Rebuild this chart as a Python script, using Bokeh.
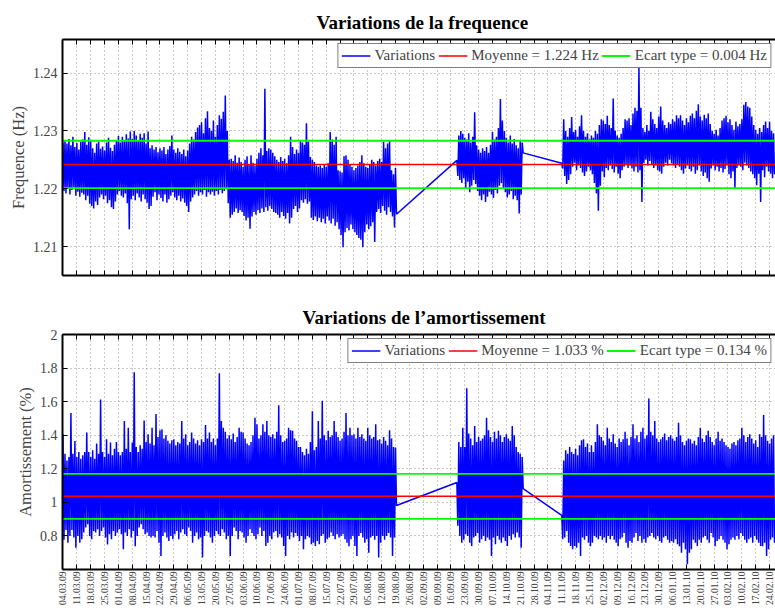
import math
from datetime import datetime

from bokeh.plotting import figure
from bokeh.layouts import column
from bokeh.models import (Range1d, FixedTicker, DatetimeTickFormatter, DatetimeAxis,
                          Legend, LegendItem)
from bokeh.embed import file_html
from bokeh.resources import INLINE

# ---------------------------------------------------------------- data
first_tick_date = "04.03.09"
n_weekly_ticks = 52
x_view_days = (-0.25, 360.0)          # visible window, in days after first tick
segment_starts = ["04.03.09", "19.09.09", "11.11.09"]

# daily high / low of the frequency record (Hz)
freq_hi_1 = [
    1.2280, 1.2284, 1.2278, 1.2286, 1.2275,  1.2290, 1.2272, 1.2279, 1.2268, 1.2281,
    1.2285, 1.2298, 1.2276, 1.2289, 1.2283,  1.2270, 1.2262, 1.2278, 1.2281, 1.2269,
    1.2273, 1.2266, 1.2280, 1.2288, 1.2271,  1.2265, 1.2276, 1.2284, 1.2291, 1.2280,
    1.2290, 1.2283, 1.2294, 1.2287, 1.2299,  1.2286, 1.2300, 1.2292, 1.2284, 1.2295,
    1.2288, 1.2296, 1.2278, 1.2299, 1.2270,  1.2275, 1.2268, 1.2272, 1.2263, 1.2270,
    1.2266, 1.2272, 1.2260, 1.2268, 1.2274,  1.2292, 1.2268, 1.2262, 1.2270, 1.2264,
    1.2260, 1.2268, 1.2256, 1.2266, 1.2278,  1.2290, 1.2285, 1.2298, 1.2306, 1.2310,
    1.2315, 1.2296, 1.2322, 1.2334, 1.2305,  1.2300, 1.2318, 1.2290, 1.2310, 1.2327,
    1.2321, 1.2333, 1.2361, 1.2300, 1.2250,  1.2252, 1.2248, 1.2258, 1.2245, 1.2254,
    1.2246, 1.2238, 1.2250, 1.2256, 1.2242,  1.2258, 1.2245, 1.2240, 1.2252, 1.2262,
    1.2270, 1.2258, 1.2373, 1.2265, 1.2270,  1.2268, 1.2262, 1.2256, 1.2250, 1.2246,
    1.2255, 1.2248, 1.2252, 1.2244, 1.2258,  1.2290, 1.2272, 1.2260, 1.2268, 1.2262,
    1.2283, 1.2280, 1.2276, 1.2313, 1.2281,  1.2255, 1.2250, 1.2246, 1.2240, 1.2238,
    1.2240, 1.2236, 1.2242, 1.2238, 1.2244,  1.2298, 1.2285, 1.2276, 1.2290, 1.2232,
    1.2230, 1.2228, 1.2256, 1.2258, 1.2250,  1.2242, 1.2238, 1.2232, 1.2236, 1.2240,
    1.2246, 1.2258, 1.2244, 1.2238, 1.2236,  1.2242, 1.2250, 1.2246, 1.2240, 1.2248,
    1.2252, 1.2246, 1.2281, 1.2270, 1.2278,  1.2283, 1.2232, 1.2225, 1.2236,
]
freq_lo_1 = [
    1.2196, 1.2192, 1.2200, 1.2190, 1.2198,  1.2202, 1.2188, 1.2195, 1.2186, 1.2193,
    1.2190, 1.2180, 1.2188, 1.2174, 1.2170,  1.2166, 1.2178, 1.2172, 1.2185, 1.2190,
    1.2182, 1.2188, 1.2175, 1.2180, 1.2168,  1.2165, 1.2178, 1.2190, 1.2196, 1.2188,
    1.2185, 1.2192, 1.2175, 1.2130, 1.2182,  1.2188, 1.2180, 1.2192, 1.2185, 1.2178,
    1.2190, 1.2182, 1.2176, 1.2165, 1.2170,  1.2186, 1.2194, 1.2180, 1.2190, 1.2184,
    1.2178, 1.2190, 1.2176, 1.2182, 1.2188,  1.2194, 1.2185, 1.2180, 1.2188, 1.2178,
    1.2183, 1.2176, 1.2170, 1.2160, 1.2178,  1.2185, 1.2190, 1.2196, 1.2188, 1.2194,
    1.2190, 1.2198, 1.2186, 1.2194, 1.2190,  1.2195, 1.2188, 1.2196, 1.2190, 1.2198,
    1.2192, 1.2196, 1.2200, 1.2175, 1.2150,  1.2155, 1.2160, 1.2166, 1.2158, 1.2163,
    1.2160, 1.2153, 1.2145, 1.2150, 1.2131,  1.2152, 1.2160, 1.2155, 1.2163, 1.2158,
    1.2166, 1.2160, 1.2168, 1.2162, 1.2170,  1.2165, 1.2160, 1.2158, 1.2155, 1.2150,
    1.2160, 1.2153, 1.2148, 1.2158, 1.2140,  1.2150, 1.2165, 1.2170, 1.2160, 1.2166,
    1.2180, 1.2176, 1.2182, 1.2174, 1.2178,  1.2150, 1.2146, 1.2152, 1.2144, 1.2150,
    1.2142, 1.2148, 1.2140, 1.2152, 1.2145,  1.2140, 1.2148, 1.2136, 1.2142, 1.2130,
    1.2120, 1.2099, 1.2125, 1.2132, 1.2128,  1.2138, 1.2130, 1.2125, 1.2120, 1.2115,
    1.2112, 1.2099, 1.2125, 1.2138, 1.2130,  1.2135, 1.2142, 1.2108, 1.2160, 1.2165,
    1.2158, 1.2170, 1.2162, 1.2155, 1.2168,  1.2160, 1.2152, 1.2133, 1.2156,
]
freq_hi_2 = [
    1.2249, 1.2292, 1.2300, 1.2295, 1.2288,  1.2285, 1.2296, 1.2280, 1.2290, 1.2332,
    1.2275, 1.2268, 1.2262, 1.2270, 1.2265,  1.2272, 1.2262, 1.2276, 1.2298, 1.2285,
    1.2290, 1.2305, 1.2355, 1.2318, 1.2300,  1.2288, 1.2280, 1.2292, 1.2278, 1.2286,
    1.2275, 1.2270, 1.2282, 1.2280,
]
freq_lo_2 = [
    1.2222, 1.2215, 1.2210, 1.2218, 1.2200,  1.2212, 1.2194, 1.2205, 1.2215, 1.2208,
    1.2196, 1.2188, 1.2180, 1.2190, 1.2177,  1.2186, 1.2195, 1.2190, 1.2184, 1.2198,
    1.2192, 1.2205, 1.2210, 1.2200, 1.2194,  1.2185, 1.2190, 1.2196, 1.2182, 1.2188,
    1.2180, 1.2157, 1.2190, 1.2262,
]
freq_hi_3 = [
    1.2244, 1.2320, 1.2300, 1.2290, 1.2305,  1.2324, 1.2298, 1.2302, 1.2290, 1.2308,
    1.2327, 1.2300, 1.2290, 1.2296, 1.2285,  1.2292, 1.2288, 1.2300, 1.2295, 1.2310,
    1.2320, 1.2318, 1.2312, 1.2326, 1.2310,  1.2305, 1.2356, 1.2300, 1.2292, 1.2288,
    1.2295, 1.2305, 1.2320, 1.2318, 1.2322,  1.2310, 1.2330, 1.2340, 1.2335, 1.2411,
    1.2340, 1.2305, 1.2298, 1.2310, 1.2300,  1.2333, 1.2320, 1.2312, 1.2305, 1.2325,
    1.2342, 1.2318, 1.2310, 1.2305, 1.2315,  1.2312, 1.2320, 1.2316, 1.2327, 1.2322,
    1.2327, 1.2318, 1.2310, 1.2322, 1.2315,  1.2326, 1.2330, 1.2322, 1.2335, 1.2346,
    1.2325, 1.2318, 1.2328, 1.2322, 1.2330,  1.2312, 1.2300, 1.2295, 1.2302, 1.2292,
    1.2305, 1.2318, 1.2322, 1.2326, 1.2315,  1.2320, 1.2310, 1.2302, 1.2316, 1.2308,
    1.2312, 1.2320, 1.2345, 1.2350, 1.2342,  1.2340, 1.2325, 1.2310, 1.2302, 1.2295,
    1.2305, 1.2298, 1.2310, 1.2316, 1.2305,  1.2316, 1.2300, 1.2296,
]
freq_lo_3 = [
    1.2235, 1.2222, 1.2208, 1.2215, 1.2225,  1.2238, 1.2245, 1.2232, 1.2240, 1.2236,
    1.2228, 1.2222, 1.2230, 1.2238, 1.2232,  1.2225, 1.2210, 1.2192, 1.2162, 1.2205,
    1.2230, 1.2220, 1.2236, 1.2232, 1.2240,  1.2234, 1.2228, 1.2238, 1.2226, 1.2218,
    1.2232, 1.2238, 1.2242, 1.2236, 1.2240,  1.2235, 1.2230, 1.2238, 1.2228, 1.2232,
    1.2177, 1.2245, 1.2250, 1.2240, 1.2248,  1.2242, 1.2236, 1.2240, 1.2232, 1.2230,
    1.2226, 1.2238, 1.2245, 1.2240, 1.2250,  1.2244, 1.2240, 1.2236, 1.2242, 1.2238,
    1.2232, 1.2226, 1.2235, 1.2240, 1.2234,  1.2230, 1.2238, 1.2226, 1.2232, 1.2240,
    1.2230, 1.2222, 1.2228, 1.2218, 1.2212,  1.2235, 1.2240, 1.2232, 1.2238, 1.2230,
    1.2236, 1.2228, 1.2234, 1.2240, 1.2225,  1.2218, 1.2230, 1.2200, 1.2236, 1.2240,
    1.2238, 1.2232, 1.2245, 1.2240, 1.2236,  1.2230, 1.2225, 1.2218, 1.2206, 1.2226,
    1.2177, 1.2232, 1.2220, 1.2238, 1.2230,  1.2226, 1.2218, 1.2225,
]

# daily high / low of the damping record (%)
damp_hi_1 = [
    1.406, 1.290, 1.250, 1.270, 1.533,  1.290, 1.365, 1.270, 1.300, 1.260,
    1.280, 1.300, 1.416, 1.300, 1.270,  1.310, 1.260, 1.350, 1.290, 1.612,
    1.300, 1.270, 1.376, 1.290, 1.356,  1.280, 1.320, 1.360, 1.300, 1.280,
    1.300, 1.484, 1.320, 1.445, 1.300,  1.356, 1.775, 1.330, 1.300, 1.340,
    1.320, 1.488, 1.360, 1.406, 1.350,  1.445, 1.340, 1.527, 1.390, 1.430,
    1.435, 1.380, 1.400, 1.367, 1.350,  1.370, 1.376, 1.340, 1.360, 1.350,
    1.484, 1.380, 1.406, 1.340, 1.360,  1.416, 1.380, 1.350, 1.370, 1.340,
    1.376, 1.360, 1.461, 1.380, 1.416,  1.360, 1.380, 1.340, 1.380, 1.769,
    1.484, 1.445, 1.420, 1.380, 1.400,  1.376, 1.410, 1.360, 1.390, 1.445,
    1.420, 1.416, 1.380, 1.350, 1.340,  1.360, 1.400, 1.504, 1.465, 1.380,
    1.400, 1.465, 1.420, 1.484, 1.400,  1.390, 1.406, 1.380, 1.420, 1.578,
    1.400, 1.360, 1.367, 1.380, 1.445,  1.430, 1.426, 1.380, 1.367, 1.330,
    1.330, 1.300, 1.280, 1.320, 1.290,  1.360, 1.543, 1.310, 1.330, 1.484,
    1.380, 1.606, 1.400, 1.370, 1.426,  1.390, 1.400, 1.484, 1.420, 1.390,
    1.367, 1.380, 1.420, 1.533, 1.400,  1.445, 1.400, 1.406, 1.380, 1.445,
    1.390, 1.406, 1.380, 1.367, 1.445,  1.400, 1.380, 1.390, 1.465, 1.370,
    1.376, 1.350, 1.390, 1.367, 1.340,  1.430, 1.380, 1.330, 1.327,
]
damp_lo_1 = [
    0.778, 0.835, 0.760, 0.800, 0.835,  0.790, 0.729, 0.800, 0.760, 0.780,
    0.820, 0.850, 0.870, 0.800, 0.780,  0.830, 0.820, 0.840, 0.800, 0.830,
    0.850, 0.790, 0.749, 0.810, 0.780,  0.830, 0.800, 0.820, 0.840, 0.810,
    0.720, 0.820, 0.800, 0.840, 0.790,  0.830, 0.739, 0.800, 0.850, 0.870,
    0.840, 0.810, 0.820, 0.800, 0.790,  0.800, 0.790, 0.830, 0.760, 0.680,
    0.800, 0.820, 0.790, 0.770, 0.800,  0.780, 0.810, 0.830, 0.780, 0.820,
    0.840, 0.810, 0.800, 0.850, 0.830,  0.759, 0.800, 0.820, 0.780, 0.790,
    0.671, 0.800, 0.830, 0.820, 0.790,  0.759, 0.800, 0.830, 0.810, 0.800,
    0.840, 0.820, 0.780, 0.800, 0.680,  0.800, 0.850, 0.830, 0.780, 0.830,
    0.820, 0.790, 0.759, 0.800, 0.840,  0.818, 0.800, 0.780, 0.810, 0.850,
    0.800, 0.830, 0.740, 0.760, 0.800,  0.780, 0.820, 0.830, 0.790, 0.810,
    0.790, 0.740, 0.680, 0.800, 0.780,  0.820, 0.790, 0.818, 0.800, 0.770,
    0.800, 0.720, 0.780, 0.800, 0.790,  0.750, 0.760, 0.740, 0.770, 0.750,
    0.800, 0.810, 0.760, 0.780, 0.790,  0.820, 0.800, 0.780, 0.810, 0.790,
    0.800, 0.810, 0.780, 0.759, 0.739,  0.780, 0.800, 0.740, 0.680, 0.800,
    0.818, 0.790, 0.760, 0.780, 0.700,  0.790, 0.800, 0.778, 0.800, 0.671,
    0.760, 0.800, 0.778, 0.800, 0.818,  0.790, 0.680, 0.790, 0.981,
]
damp_hi_2 = [
    1.118, 1.360, 1.330, 1.445, 1.330,  1.680, 1.410, 1.380, 1.340, 1.455,
    1.360, 1.390, 1.367, 1.380, 1.400,  1.504, 1.430, 1.390, 1.360, 1.420,
    1.380, 1.426, 1.400, 1.360, 1.390,  1.406, 1.380, 1.367, 1.455, 1.400,
    1.330, 1.300, 1.290, 1.270,
]
damp_lo_2 = [
    0.860, 0.800, 0.760, 0.778, 0.810,  0.800, 0.760, 0.740, 0.790, 0.800,
    0.818, 0.760, 0.780, 0.800, 0.770,  0.790, 0.778, 0.680, 0.790, 0.750,
    0.800, 0.778, 0.760, 0.790, 0.770,  0.740, 0.800, 0.778, 0.810, 0.790,
    0.820, 0.790, 0.730, 1.082,
]
damp_hi_3 = [
    0.922, 1.249, 1.310, 1.290, 1.330,  1.300, 1.288, 1.320, 1.280, 1.340,
    1.370, 1.376, 1.330, 1.350, 1.300,  1.340, 1.300, 1.360, 1.465, 1.400,
    1.390, 1.367, 1.340, 1.445, 1.380,  1.360, 1.406, 1.350, 1.330, 1.380,
    1.360, 1.376, 1.420, 1.380, 1.340,  1.390, 1.465, 1.380, 1.400, 1.360,
    1.420, 1.445, 1.380, 1.400, 1.618,  1.420, 1.400, 1.484, 1.380, 1.360,
    1.376, 1.390, 1.410, 1.370, 1.390,  1.400, 1.380, 1.367, 1.390, 1.474,
    1.400, 1.360, 1.340, 1.367, 1.380,  1.376, 1.350, 1.367, 1.340, 1.390,
    1.445, 1.380, 1.360, 1.400, 1.426,  1.390, 1.360, 1.340, 1.380, 1.420,
    1.367, 1.380, 1.360, 1.340, 1.330,  1.320, 1.350, 1.360, 1.340, 1.370,
    1.380, 1.445, 1.400, 1.360, 1.390,  1.406, 1.380, 1.350, 1.370, 1.330,
    1.406, 1.390, 1.520, 1.400, 1.367,  1.350, 1.380, 1.400,
]
damp_lo_3 = [
    0.780, 0.790, 0.830, 0.760, 0.740,  0.720, 0.740, 0.729, 0.760, 0.680,
    0.790, 0.778, 0.800, 0.760, 0.739,  0.760, 0.800, 0.790, 0.780, 0.800,
    0.778, 0.790, 0.760, 0.800, 0.780,  0.800, 0.778, 0.760, 0.739, 0.780,
    0.790, 0.818, 0.760, 0.729, 0.770,  0.760, 0.790, 0.818, 0.770, 0.800,
    0.760, 0.780, 0.759, 0.790, 0.800,  0.818, 0.790, 0.780, 0.800, 0.770,
    0.759, 0.790, 0.800, 0.778, 0.760,  0.770, 0.759, 0.780, 0.750, 0.739,
    0.700, 0.760, 0.720, 0.631, 0.700,  0.720, 0.778, 0.760, 0.740, 0.778,
    0.759, 0.790, 0.800, 0.778, 0.760,  0.818, 0.790, 0.739, 0.770, 0.780,
    0.800, 0.778, 0.760, 0.720, 0.750,  0.778, 0.790, 0.778, 0.800, 0.780,
    0.818, 0.800, 0.778, 0.760, 0.780,  0.790, 0.760, 0.800, 0.778, 0.760,
    0.740, 0.739, 0.760, 0.680, 0.720,  0.778, 0.790, 0.760,
]

# statistics lines (as drawn) and legend texts
freq_mean, freq_std = 1.2242, 0.0041
damp_mean, damp_std = 1.036, 0.134
freq_legend = ["Variations", "Moyenne = 1.224 Hz", "Ecart type = 0.004 Hz"]
damp_legend = ["Variations", "Moyenne = 1.033 %", "Ecart type = 0.134 %"]
freq_yticks = [1.21, 1.22, 1.23, 1.24]
damp_yticks = [0.8, 1, 1.2, 1.4, 1.6, 1.8, 2]
freq_yrange = (1.205, 1.2458)
damp_yrange = (0.6, 2.0)
freq_title = "Variations de la frequence"
damp_title = "Variations de l\u2019amortissement"
freq_ylabel = "Frequence (Hz)"
damp_ylabel = "Amortissement (%)"

# ---------------------------------------------------------------- helpers
EPOCH = datetime(1970, 1, 1)
DAY_MS = 86400000.0
SERIF = "Liberation Serif"


def to_ms(s):
    return (datetime.strptime(s, "%d.%m.%y") - EPOCH).total_seconds() * 1000.0


t0 = to_ms(first_tick_date)
week_ticks = [t0 + 7 * k * DAY_MS for k in range(n_weekly_ticks)]
x_lo = t0 + x_view_days[0] * DAY_MS
x_hi = t0 + x_view_days[1] * DAY_MS


def zigzag(segments):
    xs, ys = [], []
    for start, hi, lo in segments:
        ts = to_ms(start)
        for i, (h, l) in enumerate(zip(hi, lo)):
            xs += [ts + i * DAY_MS, ts + (i + 0.5) * DAY_MS]
            ys += [h, l]
    return xs, ys


def make_fig(height, b_top, b_bottom, yrange, yticks, title, title_offset,
             ylabel, series, mean, std, legend_texts, show_dates):
    p = figure(width=775, height=height, x_axis_type="datetime",
               x_range=Range1d(x_lo, x_hi), y_range=Range1d(*yrange),
               output_backend="svg", toolbar_location=None,
               min_border_left=62, min_border_right=0,
               min_border_top=b_top, min_border_bottom=b_bottom)
    p.outline_line_color = None
    p.background_fill_color = "white"
    p.border_fill_color = "white"

    p.title.text = title
    p.title.align = "left"
    p.title.offset = title_offset
    p.title.standoff = 14
    p.title.text_font = SERIF
    p.title.text_font_size = "19px"
    p.title.text_font_style = "bold"
    p.title.text_color = "black"

    ticker = FixedTicker(ticks=week_ticks)
    fmt = DatetimeTickFormatter(
        microseconds="%d.%m.%y", milliseconds="%d.%m.%y", seconds="%d.%m.%y",
        minsec="%d.%m.%y", minutes="%d.%m.%y", hourmin="%d.%m.%y",
        hours="%d.%m.%y", days="%d.%m.%y", months="%d.%m.%y", years="%d.%m.%y",
        strip_leading_zeros=False)

    xa = p.xaxis[0]
    xa.ticker = ticker
    xa.formatter = fmt
    xa.axis_line_width = 2
    xa.major_tick_in = 5
    xa.major_tick_out = 0
    xa.minor_tick_line_color = None
    if show_dates:
        xa.major_label_orientation = math.pi / 2
        xa.major_label_text_font = SERIF
        xa.major_label_text_font_size = "9.6px"
        xa.major_label_standoff = 2
    else:
        xa.major_label_text_color = None
        xa.major_label_text_font_size = "1px"
        xa.major_label_standoff = 0

    top_ax = DatetimeAxis(ticker=FixedTicker(ticks=week_ticks), formatter=fmt,
                          major_label_text_color=None,
                          major_label_text_font_size="1px", major_label_standoff=0,
                          major_tick_in=5, major_tick_out=0,
                          minor_tick_line_color=None, axis_line_width=2)
    p.add_layout(top_ax, "above")

    ya = p.yaxis[0]
    ya.ticker = FixedTicker(ticks=yticks)
    ya.major_label_overrides = {1: "1", 2: "2"}
    ya.axis_line_width = 2
    ya.major_tick_in = 5
    ya.major_tick_out = 0
    ya.minor_tick_line_color = None
    ya.major_label_standoff = 5
    ya.major_label_text_font = SERIF
    ya.major_label_text_font_size = "14px"
    ya.axis_label = ylabel
    ya.axis_label_text_font = SERIF
    ya.axis_label_text_font_size = "16.5px"
    ya.axis_label_text_font_style = "normal"
    ya.axis_label_standoff = 2

    p.xgrid.ticker = FixedTicker(ticks=week_ticks)
    p.ygrid.ticker = FixedTicker(ticks=yticks)
    for g in (p.xgrid[0], p.ygrid[0]):
        g.grid_line_color = "#7a7a7a"
        g.grid_line_dash = "1 3"
        g.grid_line_width = 1
        g.grid_line_alpha = 0.8

    xs, ys = zigzag(series)
    r_var = p.line(xs, ys, line_color="#0000ff", line_width=1.5)
    r_mean = p.line([x_lo, x_hi], [mean, mean], line_color="#ff0000", line_width=1.5)
    r_up = p.line([x_lo, x_hi], [mean + std, mean + std], line_color="#00ff00", line_width=1.8)
    p.line([x_lo, x_hi], [mean - std, mean - std], line_color="#00ff00", line_width=1.8)

    legend = Legend(items=[LegendItem(label=legend_texts[0], renderers=[r_var]),
                           LegendItem(label=legend_texts[1], renderers=[r_mean]),
                           LegendItem(label=legend_texts[2], renderers=[r_up])],
                    orientation="horizontal", location="top_right",
                    label_text_font=SERIF, label_text_font_size="15px",
                    glyph_width=29, glyph_height=15, label_height=15,
                    label_standoff=4, spacing=3, padding=3, margin=4,
                    border_line_color="black", border_line_width=1,
                    background_fill_color="white", background_fill_alpha=1)
    p.add_layout(legend)
    return p


p1 = make_fig(285, 39, 10, freq_yrange, freq_yticks, freq_title, 254, freq_ylabel,
              [(segment_starts[0], freq_hi_1, freq_lo_1),
               (segment_starts[1], freq_hi_2, freq_lo_2),
               (segment_starts[2], freq_hi_3, freq_lo_3)],
              freq_mean, freq_std, freq_legend, False)
p2 = make_fig(323, 49, 37, damp_yrange, damp_yticks, damp_title, 240, damp_ylabel,
              [(segment_starts[0], damp_hi_1, damp_lo_1),
               (segment_starts[1], damp_hi_2, damp_lo_2),
               (segment_starts[2], damp_hi_3, damp_lo_3)],
              damp_mean, damp_std, damp_legend, True)

layout = column(p1, p2, spacing=0)
open("out.html", "w").write(file_html(layout, INLINE))
